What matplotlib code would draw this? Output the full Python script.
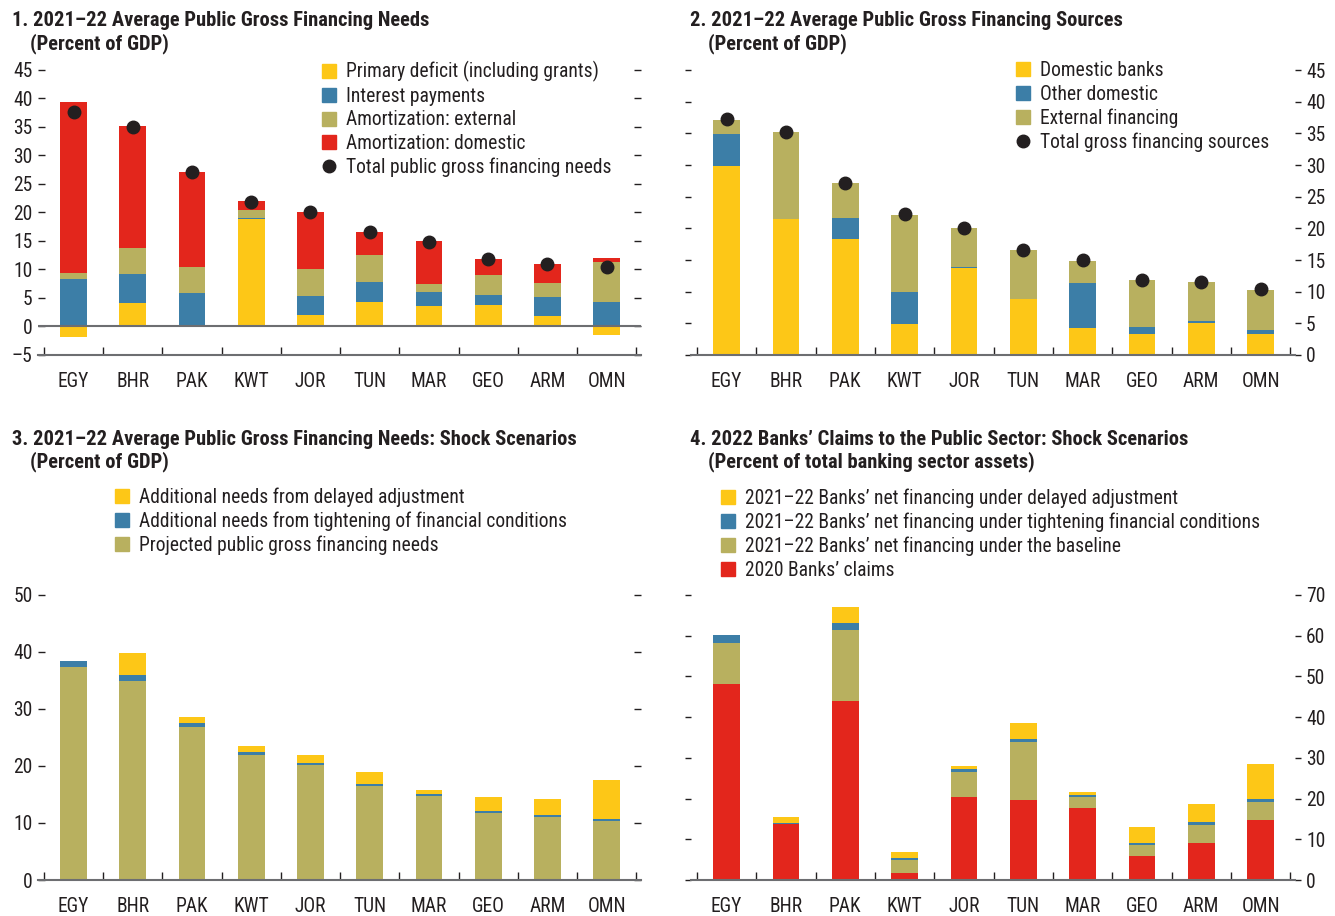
import numpy as np
import matplotlib
matplotlib.use('Agg')
import matplotlib.pyplot as plt
from matplotlib import font_manager
from matplotlib.patches import Patch
from matplotlib.lines import Line2D

# look for a narrow face, the original uses a condensed sans
avail = sorted({f.name for f in font_manager.fontManager.ttflist})
prefs = ['Roboto Condensed', 'Liberation Sans Narrow', 'Noto Sans Condensed',
         'Open Sans Condensed', 'Noto Sans Display Condensed', 'DejaVu Sans Condensed']
narrow = [n for n in prefs if n in avail]
narrow += [n for n in avail if ('Condensed' in n or 'Narrow' in n) and n not in narrow]
main_font = narrow[0] if narrow else 'Roboto'
plt.rcParams['font.family'] = [main_font, 'Roboto', 'DejaVu Sans']

countries = ['EGY', 'BHR', 'PAK', 'KWT', 'JOR', 'TUN', 'MAR', 'GEO', 'ARM', 'OMN']

# panel 1 - gross financing needs
primary_deficit = [-1.8, 4.1, 0.25, 18.8, 2.0, 4.3, 3.6, 3.75, 1.8, -1.5]
interest_pay = [8.3, 5.1, 5.6, 0.15, 3.3, 3.5, 2.4, 1.75, 3.35, 4.3]
amort_ext = [1.05, 4.55, 4.55, 1.5, 4.75, 4.7, 1.4, 3.5, 2.45, 7.0]
amort_dom = [30.0, 21.4, 16.7, 1.6, 10.0, 4.0, 7.6, 2.8, 3.35, 0.7]
total_needs = [37.6, 35.05, 27.1, 21.9, 20.1, 16.6, 14.9, 11.75, 10.95, 10.35]

# panel 2 - gross financing sources
dom_banks = [29.8, 21.45, 18.3, 4.85, 13.7, 8.8, 4.2, 3.25, 5.0, 3.25]
other_dom = [5.05, 0.0, 3.3, 5.05, 0.15, 0.0, 7.1, 1.25, 0.3, 0.65]
ext_fin = [2.35, 13.75, 5.5, 12.2, 6.15, 7.75, 3.5, 7.3, 6.2, 6.3]
total_sources = [37.35, 35.3, 27.2, 22.2, 20.1, 16.65, 14.96, 11.8, 11.5, 10.4]

# panel 3 - shock scenarios
projected = [37.35, 34.9, 26.8, 21.9, 20.1, 16.45, 14.7, 11.7, 11.0, 10.3]
add_tight = [1.05, 1.05, 0.7, 0.5, 0.35, 0.35, 0.35, 0.35, 0.35, 0.35]
add_delay = [0.0, 3.85, 1.05, 1.05, 1.4, 2.1, 0.7, 2.45, 2.8, 6.85]

# panel 4 - banks' claims
claims_2020 = [48.1, 13.7, 43.9, 1.65, 20.3, 19.6, 17.6, 5.8, 9.0, 14.7]
net_base = [10.1, 0.1, 17.5, 3.2, 6.15, 14.25, 2.7, 2.7, 4.45, 4.4]
net_tight = [1.95, 0.25, 1.7, 0.5, 0.75, 0.75, 0.5, 0.5, 0.75, 0.75]
net_delay = [0.0, 1.5, 3.95, 1.5, 0.75, 3.95, 0.75, 3.95, 4.4, 8.6]

YEL = '#fdc717'
BLU = '#3c7ea7'
OLV = '#b8b05f'
RED = '#e3261c'
DOT = '#231f20'
TXT = '#231f20'
AXC = '#6d6e71'

W, H = 1335, 916
fig = plt.figure(figsize=(W / 100, H / 100), dpi=100)
rend = fig.canvas.get_renderer()


def fit(s, target, weight='normal', base=14.5):
    # shrink the size until the string is about as wide as in the original
    t = fig.text(0, 0, s, fontsize=base, fontweight=weight)
    w = t.get_window_extent(renderer=rend).width
    t.remove()
    return min(base * target / w, base * 1.05)


FS = fit('Primary deficit (including grants)', 253)
TFS = fit('1. 2021\u201322 Average Public Gross Financing Needs', 417, 'bold', 15)
fs_px = FS * 100 / 72
LSP = max((23 - 0.94 * fs_px) / fs_px, 0.05)

x = np.arange(len(countries))
bw = 0.45


def px_axes(l, r, top, bot):
    return fig.add_axes([l / W, 1 - bot / H, (r - l) / W, (bot - top) / H])


def stack(ax, series, colors):
    pos = np.zeros(len(x))
    neg = np.zeros(len(x))
    for vals, c in zip(series, colors):
        v = np.array(vals, dtype=float)
        bottom = np.where(v >= 0, pos, neg)
        ax.bar(x, v, bw, bottom=bottom, color=c, linewidth=0, zorder=2)
        pos = pos + np.where(v >= 0, v, 0)
        neg = neg + np.where(v < 0, v, 0)


def style(ax, ylo, yhi, ticks, side):
    ax.set_xlim(-0.6, 9.58)
    ax.set_ylim(ylo, yhi)
    for s in ['top', 'left', 'right']:
        ax.spines[s].set_visible(False)
    ax.spines['bottom'].set_color(AXC)
    ax.spines['bottom'].set_linewidth(1.5)
    ax.spines['bottom'].set_zorder(3)
    ax.set_xticks(x)
    ax.set_xticklabels(countries)
    ax.set_xticks(np.arange(-0.5, 10, 1), minor=True)
    ax.tick_params(axis='x', which='major', length=0, pad=12, labelsize=FS, labelcolor=TXT)
    ax.tick_params(axis='x', which='minor', direction='in', length=6, width=1, color=TXT)
    ax.set_yticks(ticks)
    ax.yaxis.set_major_formatter(matplotlib.ticker.FuncFormatter(
        lambda v, p: ('\u2013' + str(int(-v))) if v < 0 else str(int(v))))
    if side == 'left':
        ax.tick_params(axis='y', left=True, right=True, labelleft=True, labelright=False,
                       direction='in', length=5, width=1, color=TXT, labelsize=FS,
                       labelcolor=TXT, pad=4)
    else:
        ax.tick_params(axis='y', left=True, right=True, labelleft=False, labelright=True,
                       direction='out', length=4, width=1, color=TXT, labelsize=FS,
                       labelcolor=TXT, pad=4)


def titles(xp, yp, line1, line2):
    fig.text(xp / W, 1 - (yp + 2) / H, line1, fontsize=TFS, fontweight='bold', color=TXT,
             va='center', ha='left')
    fig.text((xp + 18) / W, 1 - (yp + 25) / H, line2, fontsize=TFS, fontweight='bold',
             color=TXT, va='center', ha='left')


def legend(ax, handles, labels, xp, yc):
    # yc = centre of the first row in pixels
    ax.legend(handles, labels, loc='upper left',
              bbox_to_anchor=(xp / W, 1 - (yc - 0.45 * fs_px) / H),
              bbox_transform=fig.transFigure, frameon=False, fontsize=FS,
              handlelength=0.72, handleheight=0.72, handletextpad=0.5,
              labelspacing=LSP, borderpad=0, borderaxespad=0, labelcolor=TXT)


def dot_handle():
    return Line2D([], [], marker='o', color=DOT, linestyle='none', markersize=9)


# ---- panel 1
ax1 = px_axes(38, 641, 67, 355)
stack(ax1, [primary_deficit, interest_pay, amort_ext, amort_dom], [YEL, BLU, OLV, RED])
ax1.plot(x, total_needs, 'o', color=DOT, markersize=9, zorder=4)
ax1.axhline(0, color=AXC, lw=1.5, zorder=3)
style(ax1, -5, 45.5, np.arange(-5, 46, 5), 'left')
legend(ax1, [Patch(color=YEL), Patch(color=BLU), Patch(color=OLV), Patch(color=RED), dot_handle()],
       ['Primary deficit (including grants)', 'Interest payments', 'Amortization: external',
        'Amortization: domestic', 'Total public gross financing needs'], 322, 70)
titles(12, 19, '1. 2021\u201322 Average Public Gross Financing Needs', '(Percent of GDP)')

# ---- panel 2
ax2 = px_axes(691, 1295, 67, 355)
stack(ax2, [dom_banks, other_dom, ext_fin], [YEL, BLU, OLV])
ax2.plot(x, total_sources, 'o', color=DOT, markersize=9, zorder=4)
style(ax2, 0, 45.5, np.arange(0, 46, 5), 'right')
legend(ax2, [Patch(color=YEL), Patch(color=BLU), Patch(color=OLV), dot_handle()],
       ['Domestic banks', 'Other domestic', 'External financing', 'Total gross financing sources'],
       1016, 70)
titles(690, 19, '2. 2021\u201322 Average Public Gross Financing Sources', '(Percent of GDP)')

# ---- panel 3
ax3 = px_axes(38, 641, 592, 880)
stack(ax3, [projected, add_tight, add_delay], [OLV, BLU, YEL])
style(ax3, 0, 50.5, np.arange(0, 51, 10), 'left')
legend(ax3, [Patch(color=YEL), Patch(color=BLU), Patch(color=OLV)],
       ['Additional needs from delayed adjustment',
        'Additional needs from tightening of financial conditions',
        'Projected public gross financing needs'], 115, 496)
titles(12, 437, '3. 2021\u201322 Average Public Gross Financing Needs: Shock Scenarios',
       '(Percent of GDP)')

# ---- panel 4
ax4 = px_axes(691, 1295, 592, 880)
stack(ax4, [claims_2020, net_base, net_tight, net_delay], [RED, OLV, BLU, YEL])
style(ax4, 0, 70.7, np.arange(0, 71, 10), 'right')
legend(ax4, [Patch(color=YEL), Patch(color=BLU), Patch(color=OLV), Patch(color=RED)],
       ['2021\u201322 Banks\u2019 net financing under delayed adjustment',
        '2021\u201322 Banks\u2019 net financing under tightening financial conditions',
        '2021\u201322 Banks\u2019 net financing under the baseline',
        '2020 Banks\u2019 claims'], 721, 497)
titles(690, 437, '4. 2022 Banks\u2019 Claims to the Public Sector: Shock Scenarios',
       '(Percent of total banking sector assets)')

fig.savefig('out.png', dpi=100)
